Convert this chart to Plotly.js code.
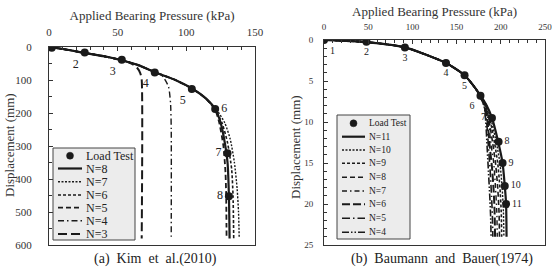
<!DOCTYPE html>
<html><head><meta charset="utf-8">
<script src="https://cdn.plot.ly/plotly-3.0.1.min.js"></script>
<style>html,body{margin:0;padding:0;background:#fff}#g{width:554px;height:269px}</style>
</head><body><div id="g"></div>
<script>
// ---- Panel (a) Kim et al. (2010) ----
const aTestX = [2, 26, 53, 77, 104, 121, 130, 131];
const aTestY = [2, 17, 39, 77, 127, 188, 322, 452];
const aLabels = ['1','2','3','4','5','6','7','8'];
const aN8x = [0, 10, 26, 40, 53, 65, 78, 92, 105, 114, 121, 125, 128, 130, 131, 131.5];
const aN8y = [0, 6, 18, 28, 40, 55, 78, 100, 128, 155, 188, 230, 290, 350, 450, 580];
const aN7x = [0, 10, 26, 40, 53, 65, 78, 92, 105, 114, 122, 128, 132, 135, 137, 138, 138.5];
const aN7y = [0, 6, 18, 28, 40, 55, 78, 100, 128, 155, 190, 230, 280, 350, 430, 500, 580];
const aN6x = [0, 10, 26, 40, 53, 65, 78, 92, 105, 114, 121, 126, 130, 133, 134, 134.5];
const aN6y = [0, 6, 18, 28, 40, 55, 78, 100, 128, 155, 190, 230, 290, 370, 450, 580];
const aN5x = [0, 10, 26, 40, 53, 65, 78, 92, 105, 114, 121, 124, 127, 128.5, 129, 129.3];
const aN5y = [0, 6, 18, 28, 40, 55, 78, 100, 128, 155, 190, 230, 300, 380, 450, 580];
const aN4x = [0, 10, 26, 40, 53, 65, 78, 83, 87, 88.5, 89, 89];
const aN4y = [0, 6, 18, 28, 40, 55, 78, 90, 120, 170, 250, 575];
const aN3x = [0, 10, 26, 40, 53, 60, 64, 66.5, 67.5, 67.5];
const aN3y = [0, 6, 18, 28, 40, 50, 62, 80, 100, 580];
const aLegendNames = ['Load Test', 'N=8', 'N=7', 'N=6', 'N=5', 'N=4', 'N=3'];

// ---- Panel (b) Baumann and Bauer (1974) ----
const bTestX = [0, 48, 91.5, 138, 159, 177, 190, 197.5, 202, 204.5, 206];
const bTestY = [0, 0.2, 0.9, 2.8, 4.3, 6.8, 9.5, 12.4, 15, 17.8, 20];
const bLabels = ['1','2','3','4','5','6','7','8','9','10','11'];
const bN11x = [0, 48, 91.5, 138, 159, 172, 184, 190, 197, 202, 204.5, 206, 206.5];
const bN11y = [0, 0.25, 0.9, 2.8, 4.3, 6, 8, 9.5, 12.4, 15, 17.8, 20, 24];
const bN10x = [0, 48, 91.5, 138, 159, 172, 184, 189, 195, 199, 201.5, 203, 203.5];
const bN10y = [0, 0.25, 0.9, 2.8, 4.3, 6, 8, 9.7, 12.5, 15, 18, 21, 24];
const bN9x = [0, 48, 91.5, 138, 159, 172, 183, 188, 193, 196.5, 199, 200.5, 201];
const bN9y = [0, 0.25, 0.9, 2.8, 4.3, 6, 8, 9.8, 12.6, 15, 18, 21, 24];
const bN8x = [0, 48, 91.5, 138, 159, 172, 183, 187, 191, 194, 196.5, 198, 198.5];
const bN8y = [0, 0.25, 0.9, 2.8, 4.3, 6, 8, 10, 12.7, 15, 18, 21, 24];
const bN7x = [0, 48, 91.5, 138, 159, 172, 182, 186, 189, 192, 194, 195.5, 196];
const bN7y = [0, 0.25, 0.9, 2.8, 4.3, 6, 8, 10, 12.8, 15, 18, 21, 24];
const bN6x = [0, 48, 91.5, 138, 159, 172, 182, 185, 187.5, 190, 192, 193, 193.5];
const bN6y = [0, 0.25, 0.9, 2.8, 4.3, 6, 8, 10, 13, 15.5, 18.5, 21, 24];
const bN5x = [0, 48, 91.5, 138, 159, 172, 181, 184, 186, 188, 189.5, 190.5, 191];
const bN5y = [0, 0.25, 0.9, 2.8, 4.3, 6, 8, 10, 13, 16, 19, 21.5, 24];
const bN4x = [0, 48, 91.5, 138, 159, 172, 181, 183, 184.5, 186, 187.5, 188.5, 189];
const bN4y = [0, 0.25, 0.9, 2.8, 4.3, 6, 8, 10, 13, 16, 19, 21.5, 24];
const bLegendNames = ['Load Test', 'N=11', 'N=10', 'N=9', 'N=8', 'N=7', 'N=6', 'N=5', 'N=4'];

const aTextPos = ['bottom left','bottom left','bottom left','bottom left','bottom left','middle right','middle left','middle left'];
const bTextPos = ['bottom right','bottom center','bottom center','bottom center','bottom center','bottom left','middle left','middle right','middle right','middle right','middle right'];

const FONT = 'Liberation Serif';
const C = '#1a1a1a';
const aStyles = [null, ['solid',2.2], ['2px,1.5px',1.4], ['3px,2px',1.6], ['5px,3px',1.8], ['6px,3px,1.5px,3px',1.4], ['9px,4px',2]];
const bStyles = [null, ['solid',2.2], ['2px,1.5px',1.4], ['3px,2px',1.6], ['5px,3px',1.6], ['5px,3px,1.5px,3px',1.4],
                 ['8px,3px',2], ['8px,3px,1.5px,3px',1.6], ['7px,2px,1.5px,2px,1.5px,2px',1.6]];

function line(x, y, name, st, xa, ya) {
  return {x, y, name, type:'scatter', mode:'lines', xaxis:xa, yaxis:ya, showlegend:false,
          line:{color:C, width:st[1], dash:st[0], shape:'spline', smoothing:0.6}};
}
const aX = [aN8x, aN7x, aN6x, aN5x, aN4x, aN3x], aY = [aN8y, aN7y, aN6y, aN5y, aN4y, aN3y];
const bX = [bN11x, bN10x, bN9x, bN8x, bN7x, bN6x, bN5x, bN4x], bY = [bN11y, bN10y, bN9y, bN8y, bN7y, bN6y, bN5y, bN4y];

const traces = [];
aX.forEach((xs, i) => traces.push(line(xs, aY[i], aLegendNames[i+1], aStyles[i+1], 'x', 'y')));
traces.push({x:aTestX, y:aTestY, name:'Load Test', text:aLabels, type:'scatter', mode:'markers+text', textposition:aTextPos,
   xaxis:'x', yaxis:'y', showlegend:false, marker:{color:C, size:8},
   textfont:{family:FONT, size:12, color:'#222'}});
bX.forEach((xs, i) => traces.push(line(xs, bY[i], bLegendNames[i+1], bStyles[i+1], 'x2', 'y2')));
traces.push({x:bTestX, y:bTestY, name:'Load Test', text:bLabels, type:'scatter', mode:'markers+text', textposition:bTextPos,
   xaxis:'x2', yaxis:'y2', showlegend:false, marker:{color:C, size:8},
   textfont:{family:FONT, size:10, color:'#222'}});

// ---- hand-drawn legends (paper coordinates from pixel positions) ----
const W = 554, H = 269;
const px = v => v / W, py = v => 1 - v / H;
const shapes = [], annotations = [];
function legendBox(box, rows, names, styles, fs, lineX0, lineX1, textX) {
  shapes.push({type:'rect', xref:'paper', yref:'paper', x0:px(box[0]), x1:px(box[1]), y0:py(box[2]), y1:py(box[3]),
    fillcolor:'#ececec', line:{color:'#444', width:1}, layer:'above'});
  names.forEach((n, i) => {
    const yy = rows[i];
    if (i === 0) {
      const m = (lineX0 + lineX1) / 2;
      shapes.push({type:'circle', xref:'paper', yref:'paper', x0:px(m-3.5), x1:px(m+3.5), y0:py(yy+3.5), y1:py(yy-3.5),
        fillcolor:C, line:{color:C, width:0.5}, layer:'above'});
    } else {
      shapes.push({type:'line', xref:'paper', yref:'paper', x0:px(lineX0), x1:px(lineX1), y0:py(yy), y1:py(yy),
        line:{color:C, width:styles[i][1], dash:styles[i][0]}, layer:'above'});
    }
    annotations.push({text:n, xref:'paper', yref:'paper', x:px(textX), y:py(yy), xanchor:'left', yanchor:'middle',
      showarrow:false, font:{family:FONT, size:fs, color:'#222'}});
  });
}
legendBox([53, 135, 240, 148], [155.7, 168.5, 181.7, 195, 207.7, 220.7, 234], aLegendNames, aStyles, 12, 58, 82, 84);
legendBox([337, 410, 239, 115], [123.3, 136.7, 150, 163.3, 177.3, 191, 204.3, 218.3, 232.3], bLegendNames, bStyles, 9.5, 342, 365, 367);

annotations.push({text:'(a)\u00a0\u00a0Kim\u00a0\u00a0et\u00a0\u00a0al.(2010)', xref:'paper', yref:'paper', x:px(155), y:py(259),
  xanchor:'center', yanchor:'middle', showarrow:false, font:{family:FONT, size:14, color:'#222'}});
annotations.push({text:'(b)\u00a0\u00a0Baumann\u00a0\u00a0and\u00a0\u00a0Bauer(1974)', xref:'paper', yref:'paper', x:px(442), y:py(259),
  xanchor:'center', yanchor:'middle', showarrow:false, font:{family:FONT, size:14, color:'#222'}});
// y-axis titles
annotations.push({text:'Displacement (mm)', xref:'paper', yref:'paper', x:px(9), y:py(145), textangle:-90,
  xanchor:'center', yanchor:'middle', showarrow:false, font:{family:FONT, size:13, color:'#333'}});
annotations.push({text:'Displacement (mm)', xref:'paper', yref:'paper', x:px(295), y:py(147), textangle:-90,
  xanchor:'center', yanchor:'middle', showarrow:false, font:{family:FONT, size:13, color:'#333'}});

const axBase = {showline:true, linecolor:'#333', linewidth:1, mirror:true, ticks:'inside', ticklen:4, automargin:false,
  tickcolor:'#333', showgrid:false, zeroline:false, tickfont:{family:FONT, size:11, color:'#333'}};
const layout = {
  width:554, height:269, margin:{l:0, r:0, t:0, b:0}, paper_bgcolor:'#fff', plot_bgcolor:'#fff',
  font:{family:FONT, color:'#333'}, showlegend:false,
  xaxis:Object.assign({}, axBase, {domain:[px(49), px(255)], anchor:'y', side:'top', range:[0,150], dtick:50,
    ticklabelstandoff:6,
    minor:{dtick:10, ticks:'inside', ticklen:3, tickcolor:'#333'},
    title:{text:'Applied Bearing Pressure (kPa)', font:{family:FONT, size:13, color:'#333'}, standoff:2}}),
  yaxis:Object.assign({}, axBase, {domain:[py(245), py(47)], anchor:'x', range:[600,0], dtick:100,
    ticklabelstandoff:14,
    minor:{dtick:50, ticks:'inside', ticklen:3, tickcolor:'#333'}}),
  xaxis2:Object.assign({}, axBase, {domain:[px(324), px(545)], anchor:'y2', side:'top', range:[0,250], dtick:50,
    tickfont:{family:FONT, size:9, color:'#333'}, ticklabelstandoff:5,
    minor:{dtick:10, ticks:'inside', ticklen:3, tickcolor:'#333'},
    title:{text:'Applied Bearing Pressure (kPa)', font:{family:FONT, size:13, color:'#333'}, standoff:2}}),
  yaxis2:Object.assign({}, axBase, {domain:[py(245), py(40)], anchor:'x2', range:[25,0], dtick:5,
    tickfont:{family:FONT, size:9, color:'#333'}, ticklabelstandoff:8,
    minor:{dtick:1, ticks:'inside', ticklen:3, tickcolor:'#333'}}),
  shapes, annotations
};
Plotly.newPlot('g', traces, layout, {staticPlot:true});
</script></body></html>
